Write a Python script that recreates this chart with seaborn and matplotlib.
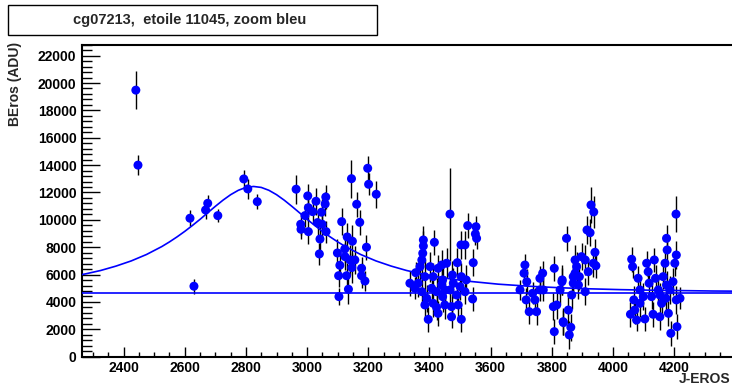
import numpy as np
import pandas as pd
import matplotlib
matplotlib.use('Agg')
import matplotlib.pyplot as plt
from matplotlib.patches import Rectangle
from matplotlib.ticker import MultipleLocator
import seaborn as sns

sns.set_theme(style='white')
plt.rcParams['font.family'] = ['Liberation Sans', 'DejaVu Sans']
plt.rcParams['font.weight'] = 'bold'

# light curve, one block per observing season (J-EROS, flux in ADU, error)
s0_jd = [2440, 2447, 2617, 2630, 2668, 2675, 2708, 2793, 2806, 2837]
s0_flux = [19480, 14000, 10120, 5150, 10720, 11210, 10310, 12990, 12260, 11330]
s0_err = [1400, 750, 600, 550, 650, 600, 500, 650, 700, 550]

s1_jd = [2964, 3002, 3029, 3061, 3059, 3004, 3018, 3047, 2993, 2979, 2980, 3004,
         3034, 3049, 3062, 3042, 3040, 3113, 3145, 3198, 3201, 3226, 3162, 3172,
         3099, 3131, 3148, 3123, 3194, 3107, 3103, 3129, 3146, 3178, 3189, 3135,
         3104, 3178, 3140, 3124, 3156]
s1_flux = [12240, 11750, 11360, 11670, 11160, 10890, 10600, 10560, 10310, 9680, 9310, 9140,
           9800, 9680, 9140, 8600, 7510, 9870, 13010, 13770, 12600, 11870, 11140, 9820,
           7580, 8750, 8440, 7870, 8000, 6680, 5920, 5920, 6510, 5920, 5530, 4930,
           4390, 6460, 7070, 7310, 7070]
s1_err = [1050, 900, 1000, 900, 850, 1000, 900, 1000, 850, 800, 700, 900,
          900, 850, 800, 900, 800, 1000, 1400, 900, 800, 1000, 900, 900,
          1000, 1000, 1200, 1000, 900, 900, 800, 900, 1100, 900, 700, 1100,
          600, 800, 1100, 1000, 1000]

s2_jd = [3336, 3352, 3355, 3363, 3369, 3375, 3378, 3380, 3380, 3375, 3385, 3385,
         3391, 3396, 3402, 3407, 3412, 3412, 3416, 3423, 3423, 3428, 3428, 3440,
         3440, 3443, 3443, 3450, 3450, 3456, 3467, 3467, 3472, 3472, 3475, 3478,
         3489, 3491, 3494, 3500, 3503, 3504, 3504, 3516, 3516, 3520, 3525, 3541,
         3543, 3550, 3552, 3554]
s2_flux = [5370, 5000, 6140, 5370, 6580, 7070, 7560, 8530, 8090, 4750, 5850, 3780,
           4270, 2730, 6580, 5000, 5850, 3900, 8360, 4750, 3610, 3170, 6460, 6700,
           5240, 5610, 4390, 4880, 3780, 6830, 10420, 4880, 3660, 2920, 5970, 5370,
           4510, 6870, 3780, 5120, 8170, 5850, 2730, 8170, 4750, 5610, 9580, 4220,
           6870, 8970, 9500, 8650]
s2_err = [900, 800, 800, 1000, 1100, 1100, 1000, 1000, 1100, 900, 1200, 900,
          1000, 900, 1100, 900, 1000, 1000, 900, 1000, 900, 900, 1000, 1100,
          1200, 1000, 1100, 1000, 1000, 1100, 3400, 1200, 900, 800, 1000, 1100,
          900, 1100, 1000, 1000, 1000, 1000, 900, 1000, 900, 1100, 900, 900,
          1000, 800, 800, 800]

s3_jd = [3696, 3709, 3712, 3716, 3718, 3726, 3737, 3745, 3750, 3761, 3761, 3770,
         3772, 3805, 3808, 3808, 3816, 3827, 3833, 3834, 3837, 3838, 3848, 3854,
         3857, 3862, 3865, 3870, 3870, 3876, 3876, 3881, 3887, 3890, 3897, 3909,
         3909, 3915, 3919, 3925, 3928, 3936, 3937, 3941, 3944]
s3_flux = [4880, 6100, 6700, 4150, 5480, 3290, 4630, 4150, 3290, 4880, 5730, 6100,
           4880, 3660, 6460, 1830, 3780, 4880, 5480, 5610, 2560, 2490, 8650, 3410,
           1590, 2150, 4510, 5850, 5370, 7070, 6100, 6580, 5240, 5850, 7310, 4750,
           7070, 9260, 6210, 9060, 11090, 6830, 10580, 7630, 6650]
s3_err = [700, 800, 800, 900, 900, 900, 800, 900, 1000, 800, 900, 900,
          800, 1000, 900, 900, 1000, 1000, 1000, 1100, 1000, 900, 900, 1100,
          1000, 1000, 1000, 1100, 1100, 1100, 1000, 1100, 1000, 1000, 1000, 1000,
          1100, 1000, 1000, 1000, 1300, 1000, 1200, 1000, 900]

s4_jd = [4057, 4061, 4064, 4068, 4071, 4077, 4082, 4088, 4088, 4099, 4104, 4110,
         4115, 4118, 4126, 4131, 4135, 4139, 4148, 4153, 4153, 4159, 4164, 4170,
         4173, 4175, 4175, 4177, 4181, 4186, 4189, 4196, 4202, 4206, 4207, 4207,
         4209, 4219]
s4_flux = [3100, 7120, 6580, 4150, 3410, 2680, 5730, 4880, 3900, 4390, 2760, 6830,
           6210, 5370, 4390, 3100, 7070, 5730, 4880, 2920, 4510, 3900, 5850, 6830,
           4270, 8650, 5240, 7800, 3170, 4880, 1710, 5480, 6830, 10420, 7430, 4150,
           2190, 4270]
s4_err = [900, 900, 800, 1000, 1000, 800, 900, 1000, 1000, 1000, 900, 900,
          900, 1000, 900, 900, 900, 1000, 1000, 1000, 900, 1000, 900, 1000,
          1000, 1000, 1000, 1100, 900, 1000, 900, 1000, 900, 1300, 1000, 1000,
          900, 800]

fit_jd = [2225, 2275, 2325, 2375, 2425, 2475, 2525, 2550, 2575, 2600, 2625, 2650,
          2675, 2700, 2725, 2750, 2775, 2800, 2825, 2850, 2875, 2900, 2925, 2950,
          2975, 3000, 3025, 3050, 3075, 3100, 3125, 3175, 3225, 3275, 3325, 3375,
          3425, 3475, 3525, 3625, 3725, 3825, 3925, 4025, 4125, 4225, 4325, 4425]
fit_flux = [5840, 6050, 6300, 6620, 7000, 7470, 8050, 8390, 8760, 9160, 9590, 10040,
            10520, 10990, 11440, 11840, 12160, 12370, 12440, 12370, 12160, 11840, 11440, 10990,
            10520, 10040, 9590, 9160, 8760, 8390, 8050, 7470, 7000, 6620, 6300, 6050,
            5840, 5665, 5520, 5300, 5150, 5040, 4960, 4900, 4860, 4830, 4800, 4785]
baseline = 4690

TITLE = 'cg07213,  etoile 11045, zoom bleu'


def main():
    df = pd.DataFrame({
        'jd': s0_jd + s1_jd + s2_jd + s3_jd + s4_jd,
        'flux': s0_flux + s1_flux + s2_flux + s3_flux + s4_flux,
        'err': s0_err + s1_err + s2_err + s3_err + s4_err,
    })
    fit = pd.DataFrame({'jd': fit_jd, 'flux': fit_flux})

    fig = plt.figure(figsize=(7.32, 3.9), dpi=100)
    ax = fig.add_axes([82 / 732, 33.3 / 390, 650 / 732, 312 / 390])

    ax.errorbar(df['jd'], df['flux'], yerr=df['err'], fmt='none',
                ecolor='black', elinewidth=1.0, zorder=2)
    sns.scatterplot(data=df, x='jd', y='flux', color='#0000ff', s=42,
                    edgecolor='none', linewidth=0, ax=ax, zorder=3)
    sns.lineplot(data=fit, x='jd', y='flux', sort=False, color='#0000ff',
                 linewidth=1.2, ax=ax, zorder=4)
    ax.axhline(baseline, color='#0000ff', linewidth=1.2, zorder=4)

    ax.set_xlim(2264, 4389)
    ax.set_ylim(0, 22800)

    ax.xaxis.set_major_locator(MultipleLocator(200))
    ax.xaxis.set_minor_locator(MultipleLocator(50))
    ax.yaxis.set_major_locator(MultipleLocator(2000))
    ax.yaxis.set_minor_locator(MultipleLocator(400))
    ax.tick_params(axis='both', which='both', direction='in', colors='black',
                   labelsize=10, width=1.0)
    ax.tick_params(axis='y', which='major', length=13, pad=4)
    ax.tick_params(axis='y', which='minor', length=7)
    ax.tick_params(axis='x', which='major', length=7, pad=3)
    ax.tick_params(axis='x', which='minor', length=3.6)
    ax.tick_params(left=True, bottom=True, which='both')
    for lab in ax.get_xticklabels() + ax.get_yticklabels():
        lab.set_fontweight('bold')

    for side in ['left', 'bottom', 'top']:
        ax.spines[side].set_visible(True)
        ax.spines[side].set_color('black')
        ax.spines[side].set_linewidth(1.5)
    ax.spines['right'].set_visible(False)
    ax.grid(False)

    ax.set_xlabel('')
    ax.set_ylabel('')
    fig.text(730 / 732, 1 - 372 / 390, 'J-EROS', ha='right', va='top',
             fontsize=10, fontweight='bold')
    fig.text(15 / 732, 1 - 42 / 390, 'BEros (ADU)', rotation=90, ha='center',
             va='top', fontsize=10, fontweight='bold')

    # title box, ROOT style
    fig.patches.append(Rectangle((8 / 732, 1 - 35 / 390), 369 / 732, 30 / 390,
                                 transform=fig.transFigure, fill=False,
                                 edgecolor='black', linewidth=1.0))
    fig.text(190 / 732, 1 - 20 / 390, TITLE, ha='center', va='center',
             fontsize=10.5, fontweight='bold')

    fig.savefig('out.png', dpi=100, facecolor='white')
    plt.close(fig)


if __name__ == '__main__':
    main()
